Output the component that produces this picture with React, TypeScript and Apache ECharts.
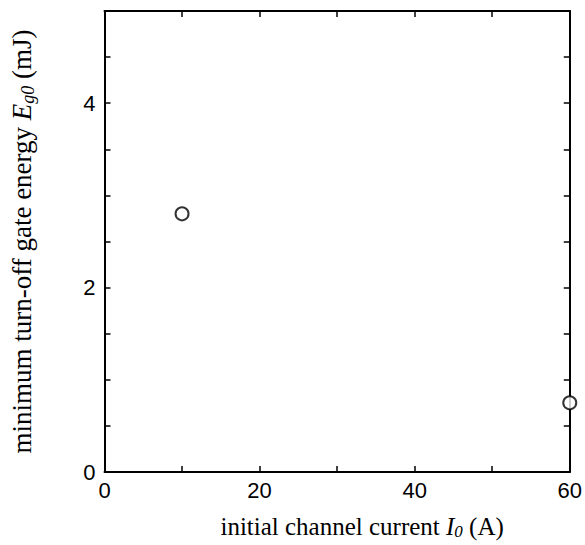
import React, { useEffect, useRef } from "react";
import * as echarts from "echarts";

const currentA: number[] = [10, 60];
const energyMJ: number[] = [2.8, 0.75];
const xTickLabels: number[] = [0, 20, 40, 60];
const yTickLabels: number[] = [0, 2, 4];

export default function App() {
  const ref = useRef<HTMLDivElement>(null);
  useEffect(() => {
    if (!ref.current) return;
    const chart = echarts.init(ref.current, null, { renderer: "svg" });
    const sans = "'Liberation Sans', Arial, sans-serif";
    const serif = "'Liberation Serif', 'Times New Roman', serif";
    const data = currentA.map((x, i) => [x, energyMJ[i]]);
    const lineStyle = { color: "#000", width: 2 };
    const tick = { show: true, inside: true, length: 6, lineStyle: { color: "#000", width: 1.5 } };
    const mkRich = (fs: number) => ({
      n: { fontFamily: serif, fontSize: fs, color: "#000" },
      i: { fontFamily: serif, fontSize: fs, fontStyle: "italic", color: "#000" },
      s: { fontFamily: serif, fontSize: Math.round(fs * 0.68), fontStyle: "italic", color: "#000", padding: [Math.round(fs * 0.45), 0, 0, 0] },
    });
    chart.setOption({
      animation: false,
      backgroundColor: "#fff",
      grid: { left: 97, right: 12, top: 11, bottom: 63, containLabel: false },
      xAxis: [
        {
          type: "value",
          min: 0,
          max: 60,
          interval: 10,
          position: "bottom",
          axisLine: { show: true, onZero: false, lineStyle },
          axisTick: tick,
          splitLine: { show: false },
          axisLabel: {
            show: true,
            color: "#000",
            fontFamily: sans,
            fontSize: 22,
            margin: 7,
            formatter: (v: number) => (xTickLabels.includes(v) ? String(v) : ""),
          },
          name: "{n|initial channel current }{i|I}{s|0}{n| (A)}",
          nameLocation: "middle",
          nameGap: 40,
          nameTextStyle: { rich: mkRich(25), padding: [0, 0, 0, 50] },
        },
        {
          type: "value",
          min: 0,
          max: 60,
          interval: 10,
          position: "top",
          axisLine: { show: true, onZero: false, lineStyle },
          axisTick: tick,
          splitLine: { show: false },
          axisLabel: { show: false },
        },
      ],
      yAxis: [
        {
          type: "value",
          min: 0,
          max: 5,
          interval: 0.5,
          position: "left",
          axisLine: { show: true, onZero: false, lineStyle },
          axisTick: tick,
          splitLine: { show: false },
          axisLabel: {
            show: true,
            color: "#000",
            fontFamily: sans,
            fontSize: 22,
            margin: 9,
            formatter: (v: number) => (yTickLabels.includes(v) ? String(v) : ""),
          },
          name: "{n|minimum turn-off gate energy }{i|E}{s|g0}{n| (mJ)}",
          nameLocation: "middle",
          nameRotate: 90,
          nameGap: 68,
          nameTextStyle: { rich: mkRich(27) },
        },
        {
          type: "value",
          min: 0,
          max: 5,
          interval: 0.5,
          position: "right",
          axisLine: { show: true, onZero: false, lineStyle },
          axisTick: tick,
          splitLine: { show: false },
          axisLabel: { show: false },
        },
      ],
      series: [
        {
          type: "scatter",
          data,
          symbol: "circle",
          symbolSize: 13,
          itemStyle: { color: "#fff", borderColor: "#000", borderWidth: 2 },
          clip: false,
          z: 10,
        },
      ],
    });
    return () => chart.dispose();
  }, []);
  return (
    <div
      ref={ref}
      style={{ position: "fixed", left: 0, top: 0, width: 585, height: 545, background: "#fff" }}
    />
  );
}
